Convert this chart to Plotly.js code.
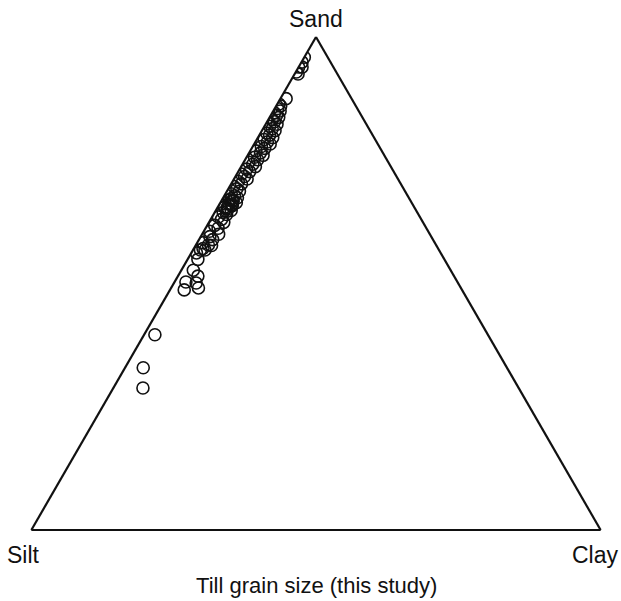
<!DOCTYPE html>
<html>
<head>
<meta charset="utf-8">
<script src="https://cdn.plot.ly/plotly-3.0.1.min.js"></script>
<style>html,body{margin:0;padding:0;background:#fff;}#chart{width:621px;height:601px;}</style>
</head>
<body>
<div id="chart"></div>
<script>
// Till grain size (percent): sand, clay, silt
const sand = [95.9,94.9,93.9,92.9,92.5,93.9,87.5,
  86.4,86.0,85.5,85.0,84.6,84.1,83.7,83.2,82.8,82.3,81.9,81.4,81.0,80.5,80.1,79.6,79.2,78.7,78.3,77.8,77.4,76.9,76.5,76.0,75.6,75.1,74.6,74.2,73.7,73.2,72.7,72.2,71.7,71.2,70.7,70.2,69.7,69.2,68.7,68.2,67.8,67.4,67.0,66.7,66.4,66.1,65.8,65.5,65.2,64.8,64.4,64.0,63.5,63.0,62.4,61.8,61.2,60.6,60.0,59.5,58.9,58.3,57.7,57.1,
  66.9,66.0,65.4,67.2,64.6,
  56.8,57.8,56.8,56.2,54.9,52.7,51.5,50.1,50.3,48.7,49.1,39.6,32.9,28.8];
const clay = [0.0,0.1,0.0,0.1,0.6,0.6,1.0,
  0.3,0.8,0.5,1.2,0.4,1.0,1.6,0.7,1.3,2.0,0.9,1.6,2.3,1.1,1.8,2.6,1.3,2.1,2.8,1.5,2.3,1.0,2.0,2.7,1.4,2.2,0.9,1.8,2.5,1.2,2.0,0.8,1.6,2.3,1.0,1.8,0.7,1.5,2.2,1.0,1.8,2.5,1.3,2.1,2.8,1.6,2.4,1.2,2.0,2.7,1.5,2.3,1.1,1.9,2.6,1.3,2.2,1.0,2.9,1.6,2.4,1.0,2.8,1.6,
  1.9,2.2,1.7,1.5,2.0,
  2.1,2.2,1.3,0.9,1.8,2.1,3.5,3.9,2.0,2.5,4.8,1.9,3.2,5.2];
const silt = [4.1,5.0,6.1,7.0,6.9,5.5,11.5,
  13.3,13.2,14.0,13.8,15.0,14.9,14.7,16.1,15.9,15.7,17.2,17.0,16.7,18.4,18.1,17.8,19.5,19.2,18.9,20.7,20.3,22.1,21.5,21.3,23.0,22.7,24.5,24.0,23.8,25.6,25.3,27.0,26.7,26.5,28.3,28.0,29.6,29.3,29.1,30.8,30.4,30.1,31.7,31.2,30.8,32.3,31.8,33.3,32.8,32.5,34.1,33.7,35.4,35.1,35.0,36.9,36.6,38.4,37.1,38.9,38.7,40.7,39.5,41.3,
  31.2,31.8,32.9,31.3,33.4,
  41.1,40.0,41.9,42.9,43.3,45.2,45.0,46.0,47.7,48.8,46.1,58.5,63.9,66.0];
const axisNames = {a: "Sand", b: "Silt", c: "Clay"};
const chartTitle = "Till grain size (this study)";

const FONT = "Liberation Sans, Arial, Helvetica, sans-serif";
const axisStyle = () => ({
  title: {text: ""},
  showgrid: false, showticklabels: false, ticks: "", showline: true,
  linecolor: "#111", linewidth: 2.2, min: 0
});
const lab = (text, x, y) => ({
  text: text, xref: "paper", yref: "paper", x: x, y: y,
  xanchor: "center", yanchor: "middle", showarrow: false,
  font: {family: FONT, size: 23, color: "#111"}
});

Plotly.newPlot("chart", [{
  type: "scatterternary", mode: "markers",
  a: sand, b: silt, c: clay,
  marker: {symbol: "circle-open", size: 12, color: "#111", line: {width: 1.6, color: "#111"}},
  hoverinfo: "a+b+c"
}], {
  width: 621, height: 601,
  margin: {l: 31, r: 20, t: 37, b: 71},
  paper_bgcolor: "#fff",
  showlegend: false,
  title: {text: chartTitle, font: {family: FONT, size: 22, color: "#111"},
          x: 0.51, xanchor: "center", y: 0.026, yref: "container", yanchor: "middle"},
  ternary: {
    sum: 100, bgcolor: "#fff",
    aaxis: axisStyle(), baxis: axisStyle(), caxis: axisStyle()
  },
  annotations: [
    lab(axisNames.a, 0.5, 1.037),
    lab(axisNames.b, -0.013, -0.05),
    lab(axisNames.c, 0.99, -0.05)
  ]
}, {displayModeBar: false});
</script>
</body>
</html>
